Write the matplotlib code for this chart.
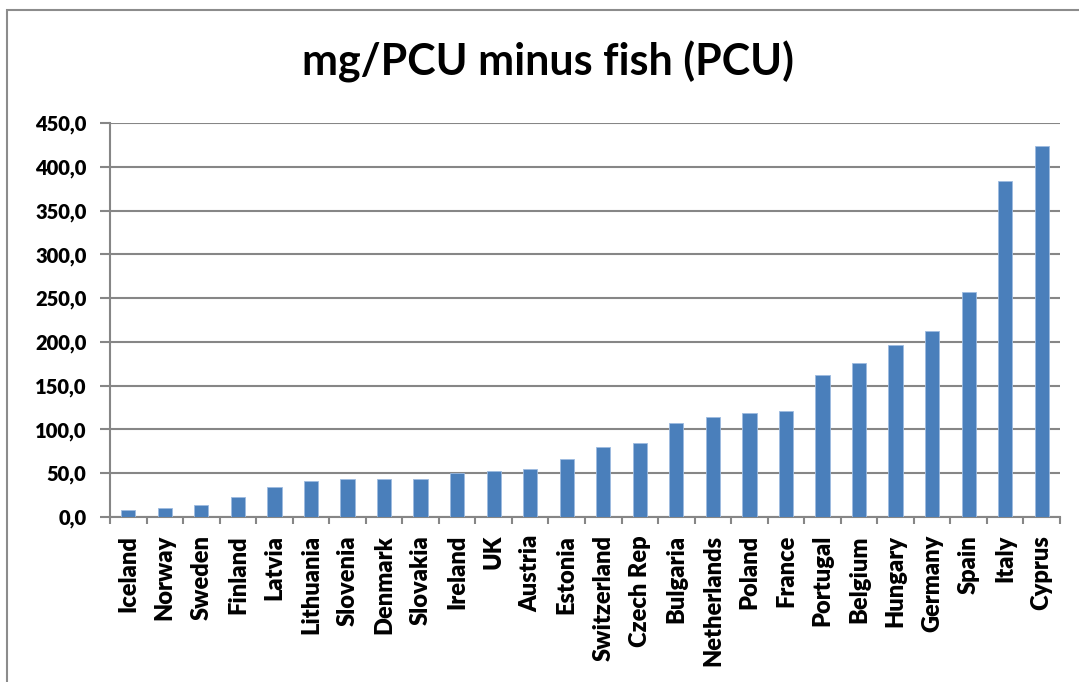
import numpy as np
import matplotlib
matplotlib.use("Agg")
import matplotlib.pyplot as plt
from matplotlib.patches import Rectangle
from matplotlib.ticker import FuncFormatter

countries = ["Iceland", "Norway", "Sweden", "Finland", "Latvia", "Lithuania",
             "Slovenia", "Denmark", "Slovakia", "Ireland", "UK", "Austria",
             "Estonia", "Switzerland", "Czech Rep", "Bulgaria", "Netherlands",
             "Poland", "France", "Portugal", "Belgium", "Hungary", "Germany",
             "Spain", "Italy", "Cyprus"]
values = [7.5, 9.8, 14.2, 23.3, 34.5, 41.3, 43.6, 43.6, 43.6, 50.3, 52.6, 55.0,
          66.5, 79.8, 84.8, 107.5, 114.3, 118.9, 121.0, 162.2, 175.6, 196.6,
          212.5, 257.2, 384.3, 423.4]
y_ticks = [0, 50, 100, 150, 200, 250, 300, 350, 400, 450]

plt.rcParams["font.family"] = ["Lato", "DejaVu Sans"]
grey = "#868686"

fig = plt.figure(figsize=(10.79, 6.82), dpi=100)
W, H = 1079, 682
# plot area in pixels: left 110, right 1060, top 123, bottom 517
ax = fig.add_axes([110 / W, 1 - 517 / H, (1060 - 110) / W, (517 - 123) / H])

# chart frame
fig.patches.append(Rectangle((7 / W, -0.1), 1.2, 1 - 10 / H + 0.1,
                             transform=fig.transFigure, fill=False,
                             edgecolor="#8c8c8c", linewidth=1.5))

x = np.arange(len(countries))
ax.bar(x, values, width=0.39, color="#4A7FBB", edgecolor="#9DBBE0",
       linewidth=0.6, zorder=3)

ax.set_xlim(-0.5, len(countries) - 0.5)
ax.set_ylim(0, 450)
ax.set_yticks(y_ticks)
ax.yaxis.set_major_formatter(FuncFormatter(lambda v, p: f"{v:.1f}".replace(".", ",")))
ax.grid(axis="y", color=grey, linewidth=1.5, zorder=0)

ax.set_xticks(x)
ax.set_xticklabels(countries, rotation=90, fontsize=17, fontweight="heavy",
                   va="top", ha="center")
ax.set_xticks(np.arange(-0.5, len(countries)), minor=True)
ax.tick_params(axis="x", which="major", length=0, pad=13)
ax.tick_params(axis="x", which="minor", length=5, width=1.5, color=grey)
ax.tick_params(axis="y", length=7, width=1.5, color=grey, labelsize=14.5, pad=10)
for lbl in ax.get_yticklabels():
    lbl.set_fontweight("heavy")

for side in ["top", "right"]:
    ax.spines[side].set_visible(False)
for side in ["left", "bottom"]:
    ax.spines[side].set_color(grey)
    ax.spines[side].set_linewidth(1.5)

fig.text(548 / W, 1 - 62 / H, "mg/PCU minus fish (PCU)", ha="center",
         va="center", fontsize=31, fontweight="bold")

fig.savefig("out.png", dpi=100)
